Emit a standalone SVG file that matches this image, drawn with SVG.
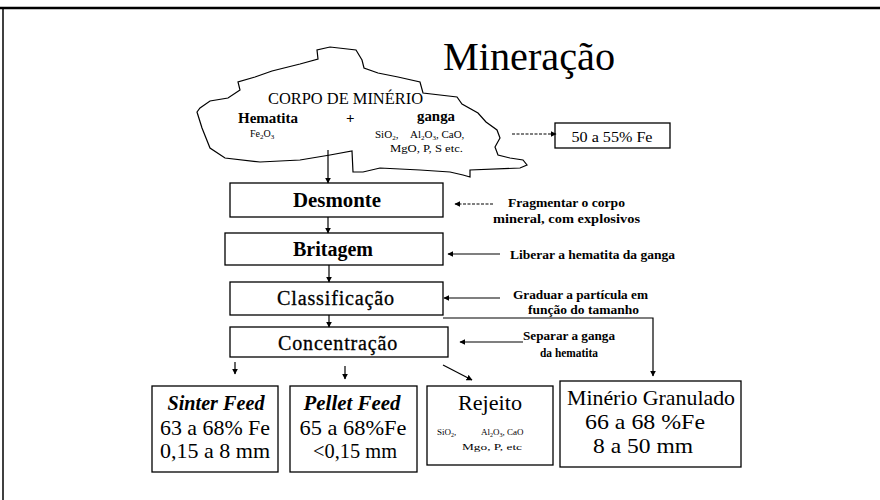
<svg xmlns="http://www.w3.org/2000/svg" width="880" height="500" viewBox="0 0 880 500">
<style>
text{font-family:"Liberation Serif","Times New Roman",serif;fill:#000}
.box{fill:#fff;stroke:#000;stroke-width:1.3}
.ln{fill:none;stroke:#000;stroke-width:1.2}
.dash{stroke-dasharray:3 1.5}
.proc{font-size:20px;font-weight:bold;text-anchor:middle}
.sans{font-size:20px;text-anchor:middle;letter-spacing:0.8px;stroke:#000;stroke-width:0.3}
.lab{font-size:13px;font-weight:bold}
.big{font-size:21px;text-anchor:middle}
</style>
<defs>
<marker id="ah" viewBox="0 0 10 10" refX="9" refY="5" markerWidth="6" markerHeight="6" orient="auto" markerUnits="userSpaceOnUse">
<path d="M0,0 L10,5 L0,10 Z" fill="#000"/>
</marker>
</defs>
<rect width="880" height="500" fill="#fff"/>
<g id="frame">
<line x1="0" y1="8" x2="880" y2="8" stroke="#000" stroke-width="2.5"/>
<line x1="3" y1="8" x2="3" y2="500" stroke="#000" stroke-width="1.5"/>
</g>
<g id="title">
<text x="443" y="70" font-size="40" textLength="172" lengthAdjust="spacingAndGlyphs">Mineração</text>
</g>
<g id="corpo">
<path class="ln" stroke-width="1.5" d="M200,108 L210,101 L228,98 L240,90 L238,82 L255,77 L272,71 L300,64 L318,59 L317,50 L330,47 L356,50 L362,60 L364,68 L378,73 L398,77 L420,82 L423,93 L457,97 L462,104 L478,113 L486,122 L497,130 L500,138 L495,147 L498,155 L510,158 L523,160 L527,165 L520,168 L470,170 L470,177 L463,175 L450,172 L420,170 L380,168 L363,172 L353,172 L352,151 L330,155 L300,160 L260,162 L225,158 L210,148 L202,128 L197,112 Z"/>
<text x="268" y="104" font-size="16" textLength="155" lengthAdjust="spacingAndGlyphs">CORPO DE MINÉRIO</text>
<text x="238" y="123" font-size="14" font-weight="bold" textLength="60" lengthAdjust="spacingAndGlyphs">Hematita</text>
<text x="346" y="123" font-size="15" font-weight="bold">+</text>
<text x="417" y="121" font-size="14" font-weight="bold" textLength="38" lengthAdjust="spacingAndGlyphs">ganga</text>
<text x="250" y="137" font-size="10">Fe<tspan font-size="7" dy="2">2</tspan><tspan dy="-2">O</tspan><tspan font-size="7" dy="2">3</tspan></text>
<text x="375" y="138" font-size="11">SiO<tspan font-size="7" dy="2">2</tspan><tspan dy="-2">,</tspan></text>
<text x="410" y="138" font-size="11">Al<tspan font-size="7" dy="2">2</tspan><tspan dy="-2">O</tspan><tspan font-size="7" dy="2">3</tspan><tspan dy="-2">, CaO,</tspan></text>
<text x="390" y="152" font-size="11" textLength="73" lengthAdjust="spacingAndGlyphs">MgO, P, S etc.</text>
</g>
<g id="teor">
<rect class="box" x="555" y="123" width="115" height="25"/>
<text x="612" y="142" font-size="15" text-anchor="middle" textLength="81" lengthAdjust="spacingAndGlyphs">50 a 55% Fe</text>
</g>
<g id="desmonte">
<rect class="box" x="230" y="183" width="213" height="34"/>
<text class="proc" x="337" y="207" textLength="88" lengthAdjust="spacingAndGlyphs">Desmonte</text>
</g>
<g id="britagem">
<rect class="box" x="225" y="233" width="218" height="32"/>
<text class="proc" x="333" y="256" textLength="80" lengthAdjust="spacingAndGlyphs">Britagem</text>
</g>
<g id="classificacao">
<rect class="box" x="230" y="282" width="213" height="33"/>
<text class="sans" x="336" y="305" textLength="118" lengthAdjust="spacingAndGlyphs">Classificação</text>
</g>
<g id="concentracao">
<rect class="box" x="230" y="327" width="218" height="30"/>
<text class="sans" x="338" y="350" textLength="120" lengthAdjust="spacingAndGlyphs">Concentração</text>
</g>
<g id="labels">
<text class="lab" x="508" y="207" textLength="117" lengthAdjust="spacingAndGlyphs">Fragmentar o corpo</text>
<text class="lab" x="493" y="223" textLength="147" lengthAdjust="spacingAndGlyphs">mineral, com explosivos</text>
<text class="lab" x="510" y="259" textLength="165" lengthAdjust="spacingAndGlyphs">Liberar a hematita da ganga</text>
<text class="lab" x="513" y="299" textLength="135" lengthAdjust="spacingAndGlyphs">Graduar a partícula em</text>
<text class="lab" x="528" y="314" textLength="111" lengthAdjust="spacingAndGlyphs">função do tamanho</text>
<text class="lab" x="523" y="340" textLength="92" lengthAdjust="spacingAndGlyphs">Separar a ganga</text>
<text class="lab" x="540" y="357" textLength="58" lengthAdjust="spacingAndGlyphs">da hematita</text>
</g>
<g id="sinter">
<rect class="box" x="152" y="386" width="126" height="86"/>
<text class="big" x="216" y="410" font-style="italic" font-weight="bold" font-size="20" textLength="97" lengthAdjust="spacingAndGlyphs">Sinter Feed</text>
<text class="big" x="215" y="435" textLength="110" lengthAdjust="spacingAndGlyphs">63 a 68% Fe</text>
<text class="big" x="215" y="458" textLength="110" lengthAdjust="spacingAndGlyphs">0,15 a 8 mm</text>
</g>
<g id="pellet">
<rect class="box" x="290" y="386" width="127" height="86"/>
<text class="big" x="352" y="410" font-style="italic" font-weight="bold" font-size="20" textLength="97" lengthAdjust="spacingAndGlyphs">Pellet Feed</text>
<text class="big" x="353" y="435" textLength="107" lengthAdjust="spacingAndGlyphs">65 a 68%Fe</text>
<text class="big" x="355" y="458" textLength="84" lengthAdjust="spacingAndGlyphs">&lt;0,15 mm</text>
</g>
<g id="rejeito">
<rect class="box" x="427" y="386" width="126" height="79"/>
<text class="big" x="490" y="410" textLength="64" lengthAdjust="spacingAndGlyphs">Rejeito</text>
<text x="437" y="435" font-size="9">SiO<tspan font-size="6" dy="2">2</tspan><tspan dy="-2">,</tspan></text>
<text x="481" y="435" font-size="9">Al<tspan font-size="6" dy="2">2</tspan><tspan dy="-2">O</tspan><tspan font-size="6" dy="2">3</tspan><tspan dy="-2">, CaO</tspan></text>
<text x="462" y="450" font-size="9" textLength="60" lengthAdjust="spacingAndGlyphs">Mgo, P, etc</text>
</g>
<g id="granulado">
<rect class="box" x="560" y="381" width="181" height="86" stroke-width="1.6"/>
<text class="big" x="651" y="405" textLength="168" lengthAdjust="spacingAndGlyphs">Minério Granulado</text>
<text class="big" x="645" y="429" textLength="120" lengthAdjust="spacingAndGlyphs">66 a 68 %Fe</text>
<text class="big" x="643" y="453" textLength="100" lengthAdjust="spacingAndGlyphs">8 a 50 mm</text>
</g>
<g id="connectors">
<line class="ln" x1="328" y1="150" x2="328" y2="183" marker-end="url(#ah)"/>
<line class="ln dash" x1="512" y1="134" x2="556" y2="134" marker-end="url(#ah)"/>
<line class="ln" x1="328" y1="217" x2="328" y2="233" marker-end="url(#ah)"/>
<line class="ln" x1="329" y1="265" x2="329" y2="282" marker-end="url(#ah)"/>
<line class="ln" x1="329" y1="315" x2="329" y2="327" marker-end="url(#ah)"/>
<line class="ln dash" x1="493" y1="204" x2="455" y2="204" marker-end="url(#ah)"/>
<line class="ln" x1="500" y1="254" x2="448" y2="254" marker-end="url(#ah)"/>
<line class="ln" x1="500" y1="298" x2="444" y2="298" marker-end="url(#ah)"/>
<line class="ln" x1="523" y1="342" x2="460" y2="342" marker-end="url(#ah)"/>
<polyline class="ln" points="443,318 653,318 653,376" marker-end="url(#ah)"/>
<line class="ln" x1="235" y1="362" x2="235" y2="374" marker-end="url(#ah)"/>
<line class="ln" x1="345" y1="366" x2="345" y2="379" marker-end="url(#ah)"/>
<line class="ln" x1="443" y1="365" x2="472" y2="380" marker-end="url(#ah)"/>
</g>
</svg>
